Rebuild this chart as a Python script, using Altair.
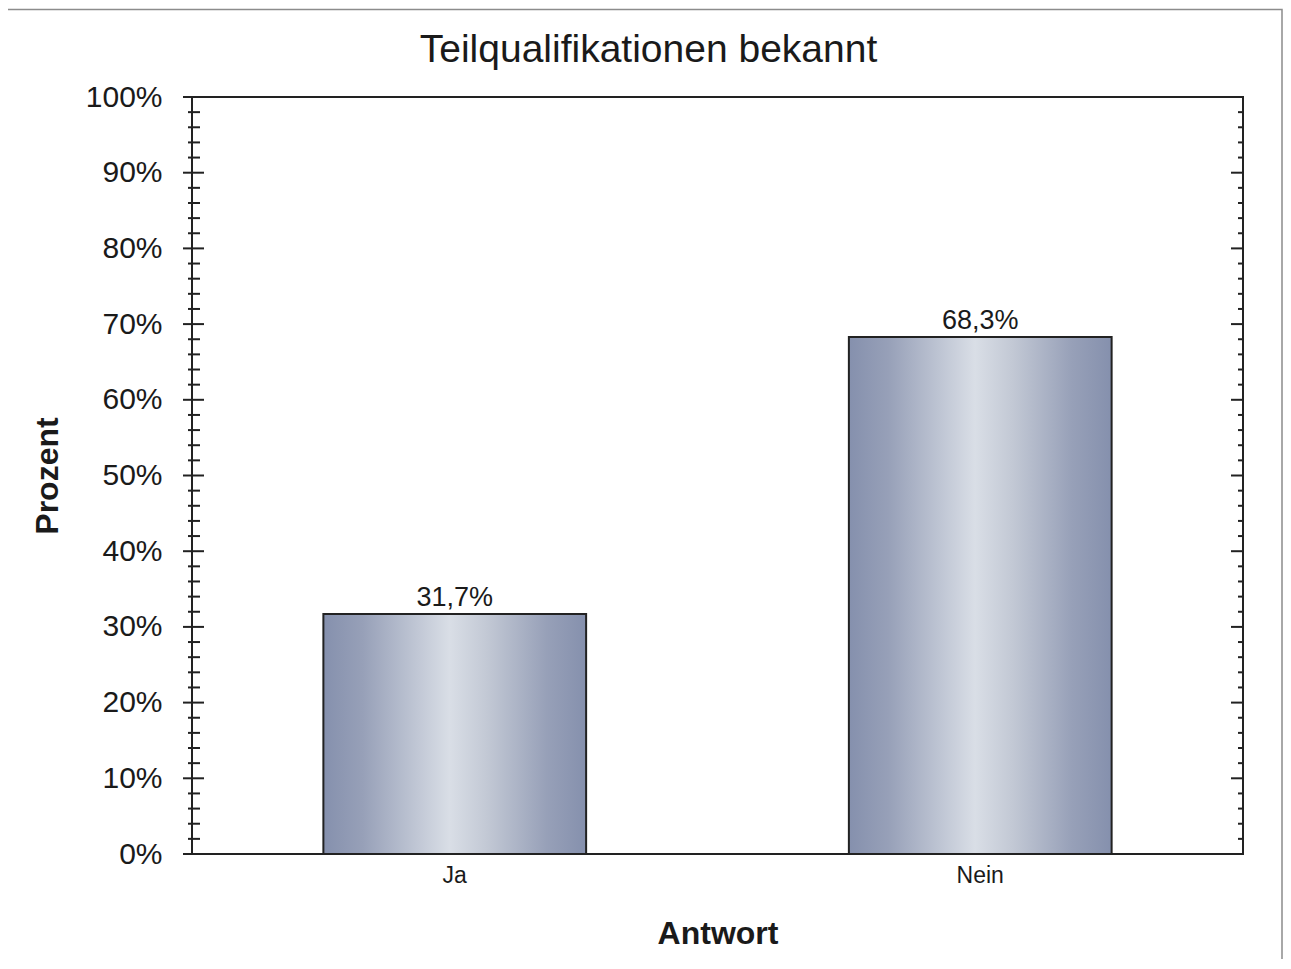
import altair as alt
import pandas as pd

# ---- data ----
categories = ["Ja", "Nein"]
values = [31.7, 68.3]
major_ticks = [0, 10, 20, 30, 40, 50, 60, 70, 80, 90, 100]
minor_ticks = [v for v in range(0, 101, 2) if v % 10 != 0]

FONT = "Liberation Sans"
TXT = "#1a1a1a"
LINE = "#222222"
W, H = 1051, 757

df = pd.DataFrame({"Antwort": categories, "Prozent": values})
df_major = pd.DataFrame({"Prozent": major_ticks})
df_minor = pd.DataFrame({"Prozent": minor_ticks})

yscale = alt.Scale(domain=[0, 100], nice=False)
xscale = alt.Scale(paddingInner=0.5, paddingOuter=0.25)

gradient = alt.Gradient(
    gradient="linear",
    stops=[
        alt.GradientStop(color="#8590ad", offset=0),
        alt.GradientStop(color="#97a0b8", offset=0.15),
        alt.GradientStop(color="#d9dee6", offset=0.48),
        alt.GradientStop(color="#c3c9d5", offset=0.62),
        alt.GradientStop(color="#97a0b8", offset=0.85),
        alt.GradientStop(color="#8590ad", offset=1),
    ],
    x1=0, x2=1, y1=0, y2=0,
)

x_enc = alt.X(
    "Antwort:N", sort=categories, scale=xscale,
    axis=alt.Axis(
        labelAngle=0, domain=False, ticks=False, labelPadding=10,
        labelFontSize=23, labelFont=FONT, labelColor=TXT,
        title="Antwort", titleFontSize=32, titleFont=FONT, titleFontWeight="bold",
        titleColor=TXT, titleY=89, titleBaseline="alphabetic",
    ),
)
y_enc = alt.Y(
    "Prozent:Q", scale=yscale,
    axis=alt.Axis(
        values=major_ticks, labelExpr="datum.value + '%'", grid=False, domain=False,
        ticks=False, labelPadding=30, labelFontSize=30, labelFont=FONT, labelColor=TXT,
        title="Prozent", titleFontSize=32, titleFont=FONT, titleFontWeight="bold",
        titleColor=TXT, titleAngle=270, titleX=-135, titleY=H / 2,
        titleAlign="center", titleBaseline="alphabetic",
    ),
)

border = alt.Chart(alt.Data(values=[{"a": 1}])).mark_rect(
    fillOpacity=0, stroke="#8c8c8c", strokeWidth=1.5
).encode(
    x=alt.value(-186.5), x2=alt.value(W + 39),
    y=alt.value(-87.5), y2=alt.value(H + 300),
)

bars = alt.Chart(df).mark_bar(fill=gradient, stroke=LINE, strokeWidth=2).encode(
    x=x_enc, y=y_enc
)

labels = alt.Chart(df).transform_calculate(
    label="replace(format(datum.Prozent, '.1f'), '.', ',') + '%'"
).mark_text(
    baseline="alphabetic", dy=-8, fontSize=27, font=FONT, color=TXT
).encode(
    x=alt.X("Antwort:N", sort=categories, scale=xscale),
    y=alt.Y("Prozent:Q", scale=yscale),
    text="label:N",
)

def tick_layer(data, x0, x1):
    return alt.Chart(data).mark_rule(color=LINE, strokeWidth=2).encode(
        y=alt.Y("Prozent:Q", scale=yscale),
        x=alt.value(x0), x2=alt.value(x1),
    )

left_major = tick_layer(df_major, -9, 12)
left_minor = tick_layer(df_minor, -4, 8)
right_major = tick_layer(df_major, W - 12, W)
right_minor = tick_layer(df_minor, W - 5, W)

chart = alt.layer(
    border, bars, labels, left_major, left_minor, right_major, right_minor
).properties(
    width=W, height=H,
    title=alt.TitleParams(
        "Teilqualifikationen bekannt", fontSize=39, font=FONT, fontWeight="normal",
        color=TXT, anchor="middle", dx=-69, dy=92, offset=0, baseline="alphabetic",
    ),
    autosize=alt.AutoSizeParams(type="none"),
    padding={"left": 184, "top": 89, "right": 40, "bottom": 105},
).configure(
    background="white"
).configure_view(
    stroke=LINE, strokeWidth=2
)

chart.save("out.html", embed_options={"renderer": "svg", "actions": False})
